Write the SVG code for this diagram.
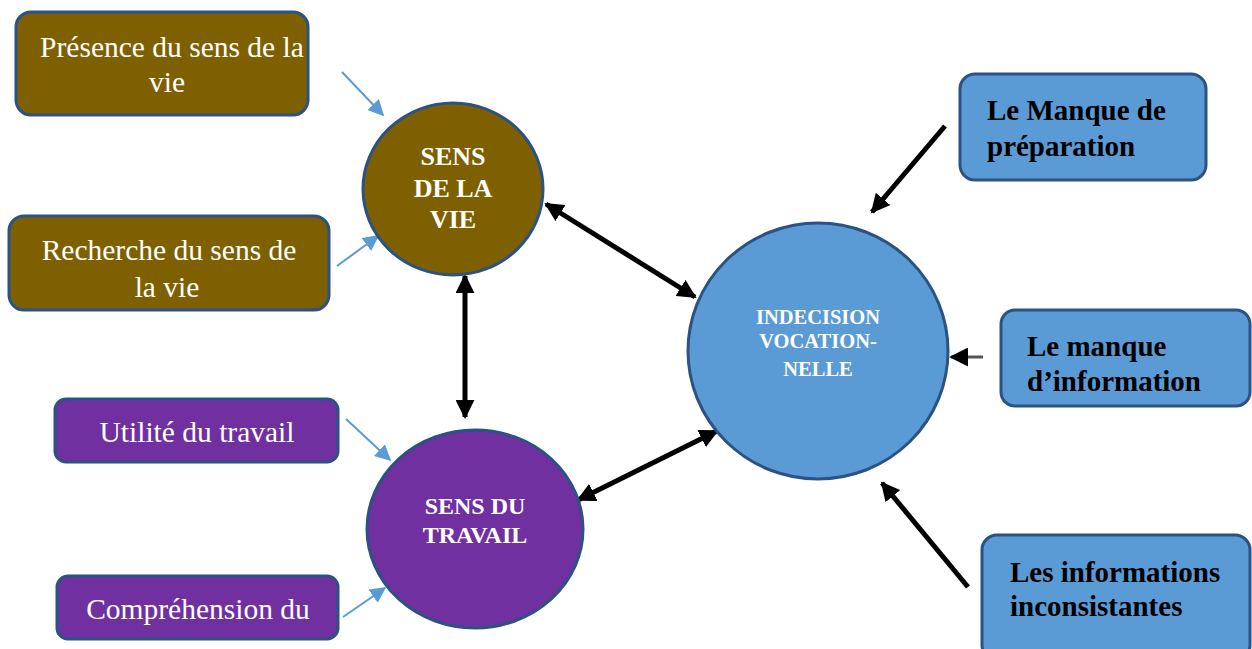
<svg xmlns="http://www.w3.org/2000/svg" width="1252" height="649" viewBox="0 0 1252 649">
<style>
.box{stroke:#2b5283;stroke-width:3}
.brown{fill:#7f6000}
.purple{fill:#7030a0}
.blue{fill:#5b9bd5}
.t{font-family:"Liberation Serif","Times New Roman",serif;fill:#fff;font-size:29.5px;text-anchor:middle}
.tb{font-family:"Liberation Serif","Times New Roman",serif;fill:#fff;font-weight:bold;text-anchor:middle}
.tk{font-family:"Liberation Serif","Times New Roman",serif;fill:#000;font-weight:bold;font-size:29px}
.thin{stroke:#5b9bd5;stroke-width:2;fill:none}
.thick{stroke:#000;stroke-width:5;fill:none}
</style>
<defs>
<marker id="ak" viewBox="0 0 10 10" refX="9" refY="5" markerWidth="19" markerHeight="19" markerUnits="userSpaceOnUse" orient="auto-start-reverse"><path d="M0,0 L10,5 L0,10 z" fill="#000"/></marker>
<marker id="ab2" viewBox="0 0 10 10" refX="9" refY="5" markerWidth="16" markerHeight="16" markerUnits="userSpaceOnUse" orient="auto"><path d="M0,0 L10,5 L0,10 z" fill="#5b9bd5"/></marker>
</defs>
<rect width="1252" height="649" fill="#fff"/>
<g id="connectors">
<line class="thin" x1="342" y1="72" x2="383" y2="115" marker-end="url(#ab2)"/>
<line class="thin" x1="337" y1="266" x2="378" y2="236" marker-end="url(#ab2)"/>
<line class="thin" x1="346" y1="419" x2="390" y2="460" marker-end="url(#ab2)"/>
<line class="thin" x1="343" y1="617" x2="385" y2="588" marker-end="url(#ab2)"/>
<line class="thick" x1="546" y1="204" x2="695" y2="297" marker-start="url(#ak)" marker-end="url(#ak)"/>
<line class="thick" x1="465" y1="276" x2="465" y2="417" marker-start="url(#ak)" marker-end="url(#ak)"/>
<line class="thick" x1="578" y1="500" x2="717" y2="431" marker-start="url(#ak)" marker-end="url(#ak)"/>
<line class="thick" x1="945" y1="126" x2="872" y2="212" marker-end="url(#ak)"/>
<line x1="983" y1="357" x2="951" y2="357" stroke="#555" stroke-width="3" marker-end="url(#ak)"/>
<line class="thick" x1="968" y1="587" x2="882" y2="483" marker-end="url(#ak)"/>
</g>
<g id="presence">
<rect class="box brown" x="16" y="12" width="292" height="103" rx="15"/>
<text class="t" x="172" y="57">Présence du sens de la</text>
<text class="t" x="167" y="92">vie</text>
</g>
<g id="recherche">
<rect class="box brown" x="9" y="216" width="320" height="94" rx="15"/>
<text class="t" x="169" y="260">Recherche du sens de</text>
<text class="t" x="167" y="297">la vie</text>
</g>
<g id="sens-vie">
<ellipse class="box brown" cx="453" cy="189" rx="90" ry="86"/>
<text class="tb" x="453" y="165" font-size="26">SENS</text>
<text class="tb" x="453" y="197" font-size="26">DE LA</text>
<text class="tb" x="453" y="228" font-size="26">VIE</text>
</g>
<g id="utilite">
<rect class="box purple" x="55" y="399" width="283" height="63" rx="11"/>
<text class="t" x="197" y="442">Utilité du travail</text>
</g>
<g id="comprehension">
<rect class="box purple" x="57" y="576" width="281" height="63" rx="11"/>
<text class="t" x="198" y="619">Compréhension du</text>
</g>
<g id="sens-travail">
<ellipse class="box purple" cx="475" cy="529" rx="108" ry="99"/>
<text class="tb" x="475" y="514" font-size="24">SENS DU</text>
<text class="tb" x="475" y="543" font-size="24">TRAVAIL</text>
</g>
<g id="indecision">
<ellipse class="box blue" cx="818" cy="351" rx="130" ry="128"/>
<text class="tb" x="818" y="324" font-size="20.5">INDECISION</text>
<text class="tb" x="818" y="348" font-size="20.5">VOCATION-</text>
<text class="tb" x="818" y="376" font-size="20.5">NELLE</text>
</g>
<g id="manque-preparation">
<rect class="box blue" x="960" y="74" width="246" height="106" rx="15"/>
<text class="tk" x="987" y="120">Le Manque de</text>
<text class="tk" x="987" y="156">préparation</text>
</g>
<g id="manque-information">
<rect class="box blue" x="1001" y="310" width="249" height="96" rx="14"/>
<text class="tk" x="1027" y="356">Le manque</text>
<text class="tk" x="1027" y="391">d’information</text>
</g>
<g id="informations-inconsistantes">
<rect class="box blue" x="982" y="535" width="268" height="125" rx="15"/>
<text class="tk" x="1010" y="582">Les informations</text>
<text class="tk" x="1010" y="616">inconsistantes</text>
</g>
</svg>
